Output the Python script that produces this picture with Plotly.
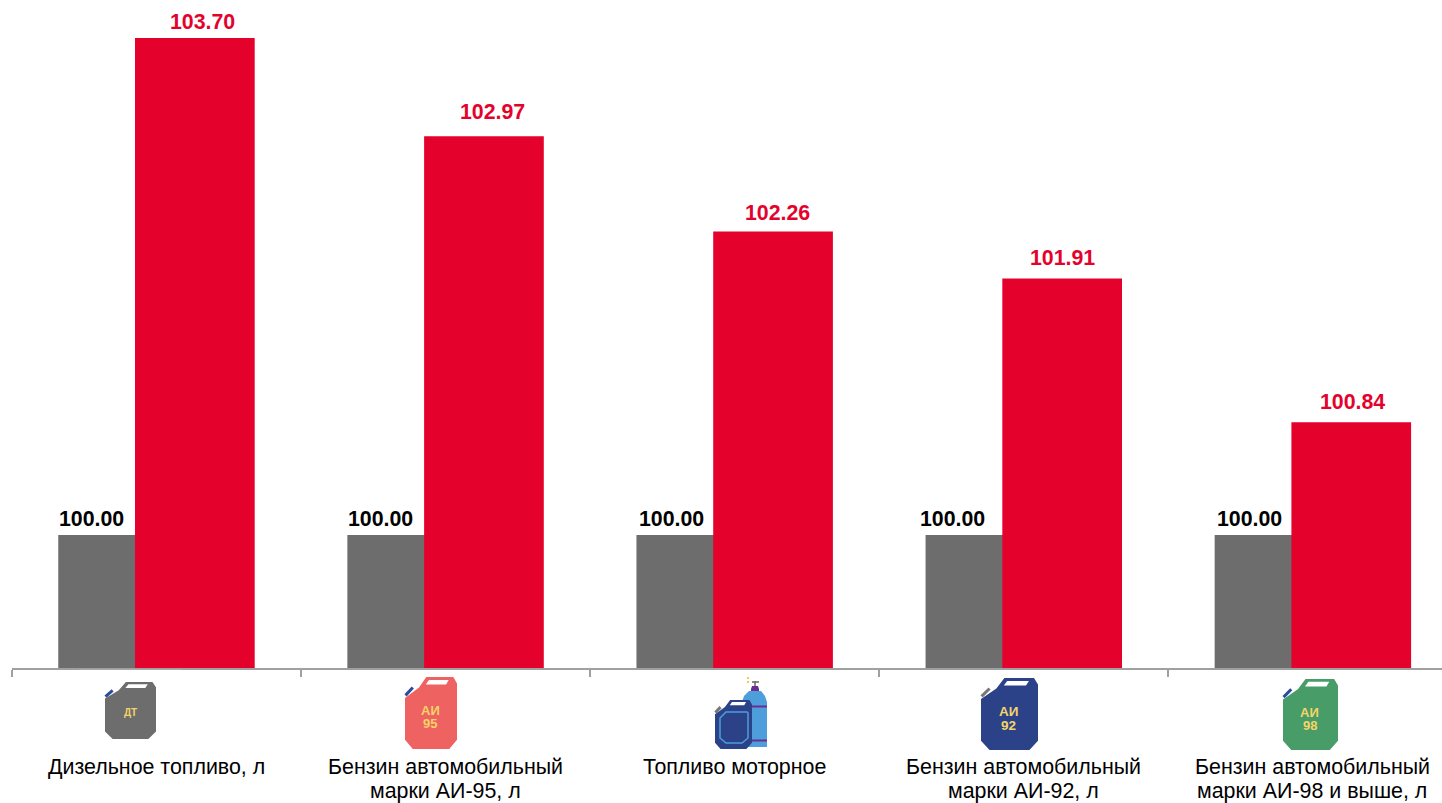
import plotly.graph_objects as go

categories = [
    "Дизельное топливо, л",
    "Бензин автомобильный<br>марки АИ-95, л",
    "Топливо моторное",
    "Бензин автомобильный<br>марки АИ-92, л",
    "Бензин автомобильный<br>марки АИ-98 и выше, л",
]
base_values = [100.00, 100.00, 100.00, 100.00, 100.00]
current_values = [103.70, 102.97, 102.26, 101.91, 100.84]

GREY = "#6d6d6d"
RED = "#e4022d"
W, H = 1442, 803
L, B = 12, 135
PW, PH = W - L, H - B
STEP = 289.1
FONT = "Liberation Sans, Arial, sans-serif"

# label nudges (px) relative to the top of each bar
grey_dx = [-65, -65, -63, -71, -63]
grey_dy = [16, 16, 16, 16, 16]
red_dx = [46, 47, 43, 39, 40]
red_dy = [16, 24, 18, 20, 20]

fig = go.Figure()
fig.add_bar(x=categories, y=base_values, name="base", marker=dict(color=GREY, line_width=0),
            width=0.414, offset=-0.34, hoverinfo="x+y")
fig.add_bar(x=categories, y=current_values, name="current", marker=dict(color=RED, line_width=0),
            width=0.414, offset=-0.0745, hoverinfo="x+y")


def px(x):
    return (x - L) / PW


def py(y):
    return (H - B - y) / PH


def poly(pts, color, line=None, lw=0):
    d = "M" + " L".join(f"{px(x):.5f},{py(y):.5f}" for x, y in pts) + " Z"
    return dict(type="path", xref="paper", yref="paper", path=d, layer="above",
                fillcolor=color, line=dict(color=line or color, width=lw))


def seg(x0, y0, x1, y1, color, w):
    return dict(type="line", xref="paper", yref="paper", x0=px(x0), y0=py(y0), x1=px(x1), y1=py(y1),
                layer="above", line=dict(color=color, width=w))


BODY = [(0.41, 0), (0.93, 0), (1, 0.09), (1, 0.87), (0.85, 1), (0.15, 1), (0, 0.87), (0, 0.29), (0.27, 0.145)]
HANDLE = [(0.46, 0.04), (0.84, 0.04), (0.79, 0.105), (0.40, 0.105)]


def canister(x0, y0, x1, y1, color, cap):
    w, h = x1 - x0, y1 - y0
    m = lambda pts: [(x0 + a * w, y0 + b * h) for a, b in pts]
    (cx0, cy0), (cx1, cy1) = m([(0.01, 0.255), (0.15, 0.145)])
    return [seg(cx0, cy0, cx1, cy1, cap, 3), poly(m(BODY), color), poly(m(HANDLE), "#ffffff")]


shapes = []
shapes += canister(105, 682, 156, 739, "#6d6d6d", "#2b4c9a")
shapes += canister(405, 677, 457, 749, "#ee6262", "#2b4c9a")
shapes += canister(981, 678, 1038, 750, "#2b4288", "#777777")
shapes += canister(1283, 679, 1338, 750, "#479c68", "#2b4c9a")

# gas cylinder + canister icon
CYL = "#4d9edb"
PUR = "#6a2e92"
shapes += [
    seg(755, 681, 755, 686, "#666666", 1.5),
    seg(752, 682, 759, 682, "#666666", 1.5),
    seg(748, 677, 748, 679, "#f2c94c", 2),
    seg(748, 681, 748, 683, "#f2c94c", 2),
    poly([(751, 689), (752, 686), (758, 686), (759, 689), (759, 691), (751, 691)], PUR),
    poly([(742, 702), (744, 696), (749, 691), (761, 691), (765, 696), (767, 702), (767, 747), (742, 747)], CYL),
    seg(742, 706.5, 767, 706.5, PUR, 2),
    seg(742, 740.5, 767, 740.5, PUR, 2),
]
shapes += canister(715, 700, 752, 749, "#2b4288", "#777777")
shapes.append(poly([(726, 712), (747, 712), (748, 713), (748, 738), (742, 743), (726, 743), (720, 738), (720, 718)],
                   "#2b4288", CYL, 1.5))
# thin white strip under the axis
shapes.append(seg(79, 670.4, 181, 670.4, "#ffffff", 1))

annotations = []
for i, c in enumerate(categories):
    annotations.append(dict(x=c, y=base_values[i], xref="x", yref="y", text=f"{base_values[i]:.2f}", showarrow=False,
                            xanchor="center", yanchor="middle", xshift=grey_dx[i], yshift=grey_dy[i],
                            font=dict(family=FONT, size=21.33, color="#000000", weight="bold")))
    annotations.append(dict(x=c, y=current_values[i], xref="x", yref="y", text=f"{current_values[i]:.2f}", showarrow=False,
                            xanchor="center", yanchor="middle", xshift=red_dx[i], yshift=red_dy[i],
                            font=dict(family=FONT, size=21.33, color=RED, weight="bold")))
    # category label, one text per line so the line pitch can match the reference
    for k, part in enumerate(c.split("<br>")):
        annotations.append(dict(x=c, y=0, xref="x", yref="paper", text=part, showarrow=False,
                                xanchor="center", yanchor="middle", yshift=-(99 + 24 * k), xshift=-0.5,
                                font=dict(family=FONT, size=21.4, color="#000000")))

icon_text = [("ДТ", 130, 712.5, 10), ("АИ", 430, 710, 13), ("95", 430, 723, 13),
             ("АИ", 1008, 711, 13.5), ("92", 1008, 725, 13.5), ("АИ", 1309.5, 712, 13), ("98", 1309.5, 725, 13)]
for t, x, y, s in icon_text:
    annotations.append(dict(x=px(x), y=py(y), xref="paper", yref="paper", text=t, showarrow=False,
                            xanchor="center", yanchor="middle",
                            font=dict(family=FONT, size=s, color="#f4d468", weight="bold")))

ymin = 100 - 133 / 134.3
fig.update_layout(
    width=W, height=H, autosize=False,
    margin=dict(l=L, r=0, t=0, b=B, pad=0),
    paper_bgcolor="#ffffff", plot_bgcolor="#ffffff",
    barmode="overlay", showlegend=False,
    shapes=shapes, annotations=annotations,
    xaxis=dict(type="category", categoryorder="array", categoryarray=categories, automargin=False,
               range=[-0.5, -0.5 + PW / STEP], tickson="boundaries", ticks="outside", ticklen=7, tickwidth=2,
               tickcolor="#a0a0a0", showline=True, linecolor="#a0a0a0", linewidth=2, showgrid=False,
               showticklabels=False, fixedrange=True),
    yaxis=dict(range=[ymin, ymin + PH / 134.3], visible=False, showgrid=False, zeroline=False, fixedrange=True,
               automargin=False),
)

fig.write_html("out.html", config=dict(displayModeBar=False),
               post_script="document.body.style.margin='0';document.body.style.overflow='hidden';")
